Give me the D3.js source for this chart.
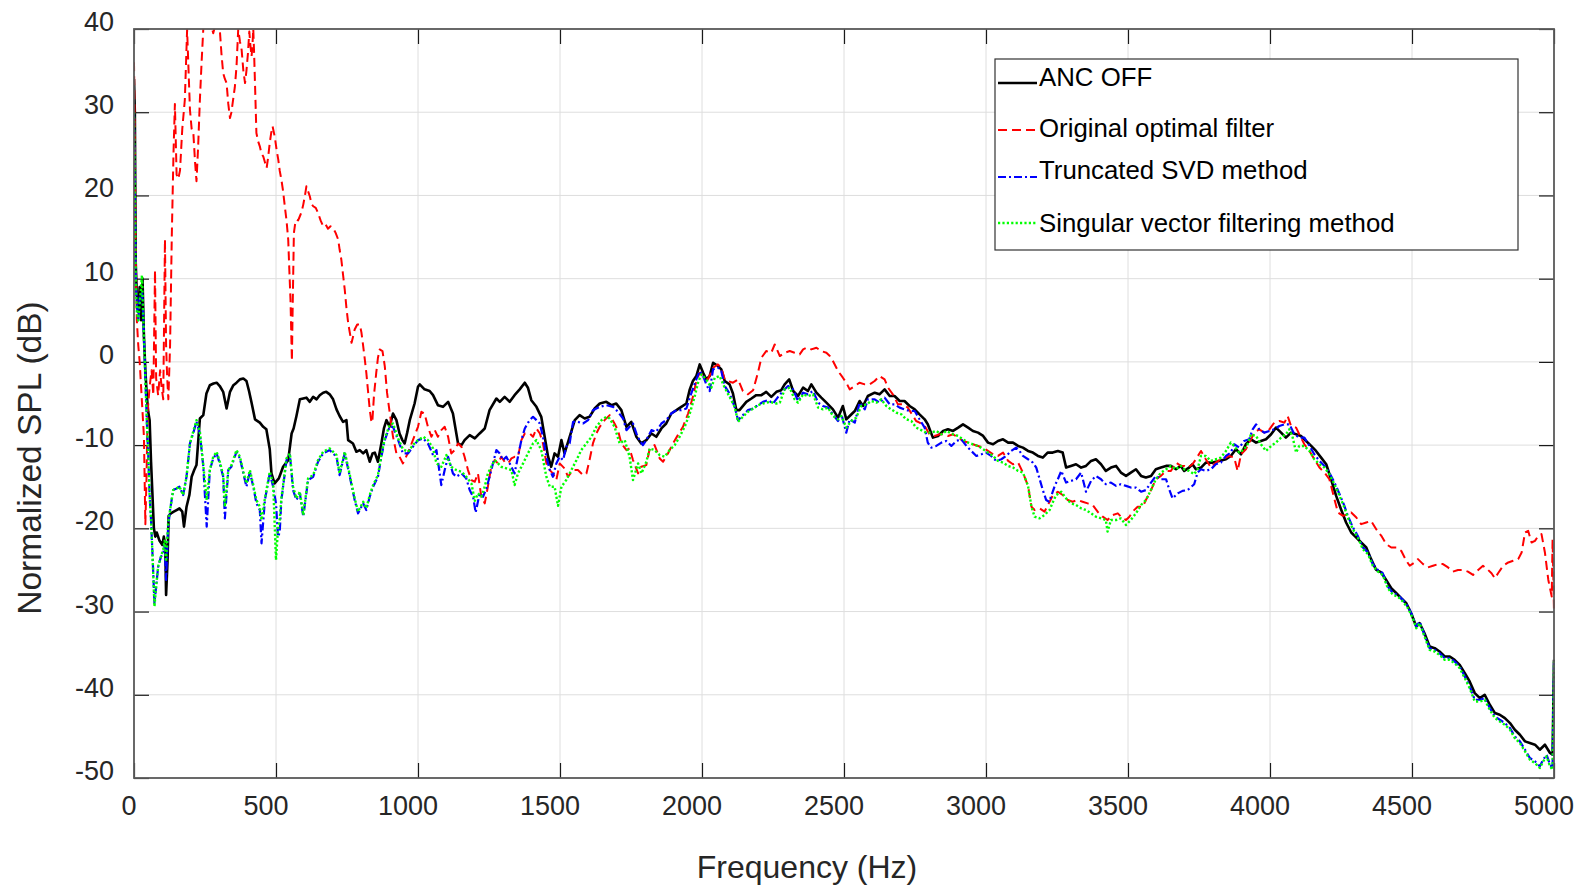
<!DOCTYPE html>
<html>
<head>
<meta charset="utf-8">
<script src="https://cdn.jsdelivr.net/npm/d3@7"></script>
<style>
  body { margin: 0; background: #fff; }
  svg { display: block; font-family: "Liberation Sans", Arial, sans-serif; }
</style>
</head>
<body>
<div id="chart"></div>
<script>
// [frequency (Hz), normalized SPL (dB)]
let ancOff = [[0,34],[3,30],[6,12],[10,8],[15,6],[20,9],[25,5],[30,10],[35,3],[40,-1],[45,-4],[50,-6],[55,-7],[60,-12],[65,-16],[70,-20],[75,-21],[80,-20.5],[90,-21.5],[100,-22],[105,-21],[110,-22],[113,-28],[118,-24],[122,-18.5],[130,-18.2],[140,-18],[150,-17.8],[160,-17.6],[170,-18],[176,-19.8],[185,-17.4],[195,-16],[203,-13.8],[212,-13],[220,-12.4],[232,-6.8],[244,-6.4],[255,-3.8],[267,-2.8],[280,-2.6],[291,-2.5],[302,-2.9],[314,-3.6],[326,-5.6],[338,-3.6],[350,-2.8],[361,-2.5],[373,-2.1],[385,-2.0],[396,-2.3],[405,-3.5],[414,-4.9],[426,-6.9],[443,-7.3],[455,-7.8],[466,-8.1],[478,-10.5],[484,-13.4],[495,-14.6],[510,-14],[525,-12.6],[543,-11.8],[555,-8.6],[562,-8.0],[572,-6.5],[584,-4.5],[596,-4.4],[607,-4.3],[619,-4.8],[631,-4.2],[643,-4.5],[654,-4.0],[666,-3.7],[677,-3.6],[689,-3.9],[701,-4.5],[713,-5.7],[724,-6.5],[736,-7.2],[748,-7.0],[754,-9.4],[771,-9.8],[783,-10.8],[795,-10.6],[807,-11],[818,-10.6],[830,-12],[840,-11],[848,-10.9],[859,-12],[871,-9.8],[880,-8],[889,-7],[900,-7.8],[912,-6.2],[924,-7.0],[935,-8.6],[945,-9.4],[953,-9.8],[962,-8.5],[971,-7],[988,-5],[1000,-3],[1006,-2.7],[1023,-3.3],[1041,-3.5],[1053,-4.0],[1070,-5.2],[1088,-5.4],[1106,-4.8],[1123,-6.2],[1141,-9.8],[1153,-10],[1164,-9.4],[1182,-8.8],[1200,-9.2],[1217,-8.6],[1235,-8],[1252,-5.8],[1276,-4.4],[1288,-4.8],[1305,-4.2],[1323,-4.8],[1340,-4],[1358,-3.3],[1376,-2.5],[1387,-3.1],[1399,-4.6],[1417,-5.4],[1434,-6.6],[1446,-9],[1458,-11.4],[1469,-12.6],[1481,-11],[1493,-11.4],[1505,-9.4],[1516,-11],[1534,-9],[1552,-7],[1569,-6.4],[1587,-6.8],[1604,-6.6],[1622,-5.6],[1640,-5],[1663,-4.8],[1681,-5.2],[1698,-5],[1716,-5.8],[1734,-7.8],[1751,-7.2],[1769,-9],[1786,-9.8],[1804,-9.4],[1822,-8.6],[1839,-9],[1857,-8],[1874,-7.4],[1892,-6.2],[1910,-5.8],[1927,-5.4],[1945,-5],[1957,-3.3],[1968,-2.3],[1980,-1.7],[1992,-0.3],[2004,-1.3],[2015,-2.1],[2027,-1.7],[2039,-0.1],[2056,-0.5],[2068,-0.9],[2080,-2.3],[2097,-2.7],[2109,-3.8],[2121,-5.8],[2132,-5.8],[2156,-4.8],[2174,-4.4],[2191,-4],[2209,-4],[2226,-3.6],[2244,-4.2],[2262,-3.6],[2279,-3.4],[2291,-2.7],[2307,-2.1],[2321,-3.5],[2338,-4.1],[2356,-3.1],[2373,-3.5],[2385,-2.7],[2403,-3.7],[2420,-4.3],[2438,-4.9],[2461,-5.7],[2479,-6.7],[2496,-5.3],[2508,-6.9],[2520,-6.5],[2538,-5.9],[2555,-4.7],[2567,-5.3],[2584,-4.1],[2608,-3.7],[2625,-3.9],[2643,-3.3],[2661,-4.1],[2678,-4.1],[2696,-4.7],[2713,-4.7],[2731,-5.3],[2749,-5.7],[2766,-6.3],[2784,-6.9],[2795,-7.5],[2813,-9.1],[2831,-8.9],[2849,-8.3],[2866,-8.1],[2884,-8.3],[2902,-7.9],[2919,-7.5],[2937,-7.9],[2954,-8.3],[2972,-8.5],[2990,-8.9],[3007,-9.7],[3025,-9.9],[3042,-9.5],[3060,-9.3],[3078,-9.7],[3095,-9.7],[3113,-10.1],[3130,-10.3],[3148,-10.7],[3165,-10.9],[3183,-11.3],[3200,-11.5],[3217,-10.9],[3235,-10.9],[3253,-10.7],[3270,-10.9],[3282,-12.7],[3299,-12.5],[3317,-12.3],[3335,-12.7],[3352,-12.5],[3370,-11.9],[3387,-11.7],[3405,-12.3],[3422,-13.1],[3440,-12.7],[3458,-12.5],[3475,-13.3],[3493,-13.7],[3510,-13.3],[3528,-12.9],[3546,-13.7],[3563,-13.9],[3581,-13.7],[3598,-12.9],[3616,-12.7],[3634,-12.5],[3651,-12.5],[3669,-12.9],[3686,-12.5],[3698,-13.1],[3715,-12.7],[3727,-12.3],[3739,-12.9],[3757,-12.7],[3774,-12.1],[3798,-12.1],[3821,-11.9],[3845,-11.7],[3862,-11.3],[3880,-10.5],[3898,-11.1],[3915,-9.9],[3933,-9.3],[3951,-9.7],[3968,-9.5],[3986,-9.3],[4004,-8.7],[4021,-7.9],[4039,-8.5],[4056,-9.1],[4074,-8.5],[4092,-8.7],[4109,-8.9],[4127,-9.5],[4145,-10.1],[4162,-10.7],[4180,-11.5],[4198,-12.3],[4215,-14.1],[4233,-16.1],[4250,-17.7],[4268,-19.3],[4286,-20.5],[4304,-21.1],[4321,-21.7],[4339,-22.3],[4356,-23.7],[4374,-25],[4392,-25.3],[4409,-26.2],[4427,-27.2],[4445,-27.8],[4462,-28.4],[4480,-29],[4497,-30.2],[4515,-31.8],[4527,-31.4],[4544,-32.6],[4562,-34.2],[4580,-34.4],[4597,-34.8],[4615,-35.4],[4633,-35.4],[4650,-35.8],[4668,-36.4],[4686,-37.4],[4703,-38.4],[4721,-39.8],[4739,-40.4],[4756,-40],[4774,-41.2],[4792,-42.2],[4809,-42.4],[4827,-42.8],[4845,-43.4],[4862,-44.2],[4880,-44.8],[4898,-45.6],[4915,-45.8],[4933,-46],[4950,-46.6],[4968,-46],[4986,-47],[4995,-47.2],[5000,-35.8]];

let originalFilter = [[0,36],[2,30],[5,15],[10,5],[15,2],[20,0],[25,-3],[30,-6],[35,-9],[40,-19.5],[44,-14],[48,-6],[55,-3],[62,-1],[68,-4],[74,11],[78,-2],[85,-4],[92,-1],[97,-3],[103,-4.5],[109,14.7],[113,2],[117,-2],[121,-4.5],[127,2],[133,15],[139,25],[144,31],[150,22.5],[156,22],[162,23],[170,28],[179,31.5],[187,39.9],[197,30.3],[203,28],[209,27.5],[215,24],[220,21.7],[226,26],[232,31.5],[238,36],[244,40],[256,43],[268,41],[279,39.5],[290,41],[302,40],[308,37],[314,34.7],[320,34],[326,33.5],[332,31],[338,29.3],[343,30],[349,31.5],[355,33],[361,35.5],[367,40],[373,38.5],[379,37.5],[385,35],[391,33.5],[396,35],[401,37],[406,39.7],[410,38],[414,36.7],[417,38],[420,40],[423,37],[426,33.5],[431,27.5],[437,26.5],[443,25.9],[449,25],[455,24.7],[461,24],[467,23.3],[472,24.5],[478,26.3],[483,27.5],[488,28.3],[496,27],[502,25.5],[508,24.3],[513,23],[519,21.9],[525,20.5],[531,18.7],[537,17],[543,14.7],[547,11],[551,7.5],[554,3],[556,0.1],[558,5],[563,15.5],[567,16.5],[572,17.1],[578,17],[584,17.5],[590,18],[596,18.9],[602,20],[607,21.1],[613,20.5],[619,19.9],[625,19],[631,18.7],[640,18.5],[648,17.9],[657,17],[666,16.3],[675,16.5],[683,16],[692,16.3],[701,16.1],[710,15.5],[719,14.7],[724,13.5],[730,12.3],[736,10.5],[742,8.7],[748,6.5],[754,4.7],[760,3.5],[766,2.3],[771,3],[777,3.9],[786,4.5],[795,4.5],[801,3.5],[807,1.9],[812,0.5],[818,-1.3],[824,-3.5],[830,-5.7],[835,-7],[839,-7.3],[845,-4],[853,-1.3],[859,0.5],[865,1.5],[875,1.3],[883,-0.5],[891,-3.7],[900,-6],[912,-9],[924,-11],[935,-11.4],[947,-12.2],[965,-10.9],[982,-9.4],[1000,-7.8],[1012,-6],[1023,-6.2],[1035,-7.8],[1047,-9],[1059,-8.2],[1070,-9],[1082,-8.2],[1094,-7.8],[1106,-9],[1117,-11],[1129,-10.6],[1141,-9.8],[1153,-10.2],[1164,-11.4],[1176,-13],[1188,-14.2],[1200,-14.4],[1211,-13.4],[1223,-16.2],[1235,-17],[1246,-15],[1258,-12.6],[1270,-11.8],[1282,-12.2],[1293,-11.4],[1305,-12],[1317,-12.2],[1329,-11.6],[1340,-11.4],[1352,-11.4],[1364,-9.4],[1376,-8.6],[1393,-8.6],[1405,-9],[1417,-8],[1429,-8.6],[1440,-9.8],[1452,-12.2],[1464,-13],[1475,-13.4],[1487,-14.2],[1499,-12.2],[1516,-12.8],[1528,-13.8],[1546,-13],[1563,-13],[1581,-13.6],[1593,-13.4],[1604,-11.8],[1616,-9.8],[1628,-8.6],[1640,-7.8],[1657,-7],[1675,-6.4],[1692,-7.4],[1704,-8.2],[1716,-9.8],[1734,-10.6],[1745,-10.4],[1757,-11.8],[1775,-13.4],[1786,-12.6],[1804,-12.4],[1816,-10.4],[1833,-10],[1851,-11.6],[1863,-12],[1880,-11],[1898,-9.8],[1915,-8.8],[1933,-7.8],[1951,-6.2],[1968,-4.2],[1980,-2.3],[1992,-1.3],[2004,-1.7],[2021,-2.1],[2039,-0.7],[2056,-0.3],[2068,-0.7],[2080,-2.1],[2091,-2.3],[2109,-2.5],[2127,-2.1],[2144,-3.5],[2162,-3.9],[2180,-3.4],[2197,-1.3],[2209,0.5],[2226,1.3],[2244,1.1],[2256,2.1],[2274,0.7],[2291,1.1],[2309,1.3],[2326,1.1],[2344,0.9],[2356,1.5],[2368,1.7],[2385,1.5],[2403,1.7],[2420,1.3],[2438,1.1],[2450,0.7],[2461,0.1],[2479,-1.1],[2496,-1.9],[2508,-2.5],[2520,-3.3],[2538,-2.9],[2555,-2.5],[2573,-2.7],[2590,-2.7],[2608,-2.3],[2625,-1.7],[2643,-2.1],[2655,-3.1],[2672,-3.9],[2690,-5.1],[2708,-5.1],[2725,-5.5],[2743,-6.5],[2754,-7.1],[2766,-7.3],[2784,-7.7],[2801,-8.7],[2819,-8.9],[2837,-8.7],[2849,-8.7],[2866,-8.9],[2884,-8.7],[2902,-9.1],[2919,-9.5],[2937,-9.7],[2954,-9.9],[2972,-10.1],[2990,-10.3],[3007,-10.7],[3025,-11.1],[3042,-11.3],[3060,-10.9],[3078,-11.9],[3095,-12.3],[3113,-12.1],[3130,-13.3],[3148,-14.9],[3160,-17.4],[3171,-17.8],[3189,-17.6],[3206,-18],[3224,-16.8],[3236,-16],[3253,-15.6],[3270,-16],[3288,-16.6],[3305,-16.8],[3323,-16.6],[3340,-16.8],[3358,-17],[3376,-17.2],[3393,-18],[3411,-18.6],[3428,-19],[3446,-18.4],[3464,-18.2],[3481,-18.8],[3493,-19],[3505,-18.6],[3516,-18],[3534,-17.4],[3552,-17.4],[3563,-16.6],[3581,-15.4],[3598,-14.1],[3616,-13.7],[3634,-13.1],[3651,-13.1],[3669,-12.1],[3686,-12.5],[3698,-12.5],[3710,-12.7],[3727,-12.3],[3739,-11.7],[3757,-10.7],[3774,-11.7],[3792,-12.7],[3809,-12.1],[3827,-11.7],[3845,-11.5],[3856,-11.3],[3874,-11.5],[3886,-13.1],[3898,-11.1],[3915,-10.5],[3933,-9.3],[3945,-8.5],[3962,-8.1],[3980,-8.5],[3998,-8.1],[4015,-7.3],[4033,-7.1],[4051,-7.3],[4062,-6.5],[4074,-7.7],[4092,-7.9],[4103,-8.7],[4121,-9.9],[4139,-10.7],[4156,-11.7],[4174,-12.7],[4192,-13.3],[4209,-14.1],[4227,-16.5],[4239,-18.1],[4257,-18.5],[4274,-18.3],[4286,-18.1],[4304,-18.7],[4321,-19.5],[4339,-19.3],[4356,-19.1],[4374,-20.1],[4392,-20.9],[4409,-21.9],[4427,-22.3],[4445,-22.3],[4462,-22.7],[4480,-23.9],[4492,-24.5],[4509,-24.1],[4521,-23.7],[4539,-24.3],[4556,-24.7],[4574,-24.5],[4592,-24.3],[4609,-24.3],[4627,-24.7],[4644,-25.2],[4662,-25],[4680,-25],[4697,-25.2],[4715,-25.6],[4733,-25],[4750,-24.5],[4768,-25],[4780,-25.4],[4792,-26],[4803,-25.4],[4821,-24.5],[4839,-24.1],[4856,-23.9],[4874,-23.7],[4886,-22.9],[4898,-20.5],[4909,-20.3],[4921,-21.7],[4933,-21.5],[4945,-20.9],[4956,-20.7],[4968,-22.9],[4980,-26.2],[4992,-28.2],[4995,-21.3],[5000,-30]];

let truncatedSvd = [[0,30],[3,20],[6,10],[10,7],[15,5],[20,8],[25,8],[28,8.5],[32,6],[36,2],[40,-2],[45,-7],[50,-11],[55,-16],[60,-19],[65,-23],[72,-29],[78,-27],[85,-24.6],[95,-23.4],[103,-23],[108,-22],[113,-26.2],[120,-20],[127,-17.8],[138,-15.4],[150,-15.2],[160,-15],[173,-16],[185,-13.8],[197,-9.8],[210,-8.4],[220,-7.2],[232,-8.6],[244,-12.6],[256,-19.8],[267,-13],[279,-11.6],[291,-11],[302,-12.2],[314,-13.8],[320,-18.8],[332,-13],[343,-12.6],[361,-10.8],[373,-11.6],[385,-13.4],[396,-15],[408,-13.2],[420,-15],[431,-17],[443,-17.8],[449,-21.8],[461,-16.6],[478,-13.4],[490,-15],[500,-17],[507,-21],[513,-20.5],[519,-16.6],[537,-11.8],[549,-11.2],[560,-15.4],[572,-16.6],[584,-15.8],[596,-18.6],[613,-14.2],[631,-13.8],[648,-12],[666,-11],[689,-10.6],[713,-11.4],[724,-13.6],[742,-11],[760,-13.8],[777,-16.6],[789,-18.2],[807,-17],[818,-17.8],[830,-16.2],[842,-15],[859,-13.8],[871,-11.4],[883,-9.4],[900,-7.8],[912,-7.8],[930,-9.4],[947,-11],[965,-11],[982,-10.2],[1000,-9.4],[1018,-9.2],[1035,-9.8],[1053,-11.2],[1065,-10.6],[1082,-14.8],[1094,-13],[1106,-11.4],[1123,-13.4],[1135,-13.8],[1153,-13.4],[1170,-14],[1182,-15.4],[1194,-16.2],[1203,-18.1],[1217,-15.8],[1229,-16.2],[1241,-15.2],[1252,-13.8],[1264,-12.2],[1276,-10.6],[1288,-11],[1299,-11.8],[1311,-11.4],[1323,-12.2],[1340,-13.4],[1352,-11.4],[1364,-9.4],[1376,-8],[1393,-7],[1405,-6.6],[1417,-7],[1429,-7.4],[1440,-9],[1452,-11.4],[1464,-13],[1475,-13.8],[1487,-12.2],[1499,-11.4],[1511,-11.8],[1522,-10.2],[1534,-9.8],[1546,-7.2],[1563,-7.2],[1581,-7.4],[1599,-7],[1616,-5.8],[1640,-5.4],[1663,-5.2],[1687,-5.4],[1704,-6],[1722,-6.8],[1734,-8.2],[1745,-7.8],[1757,-7.4],[1769,-8.6],[1780,-9.4],[1792,-10],[1804,-9.4],[1822,-8.2],[1839,-8.4],[1857,-7.4],[1874,-7],[1892,-6.2],[1910,-5.8],[1927,-5.8],[1945,-5.6],[1962,-3.8],[1980,-2.1],[1992,-1.1],[2004,-1.7],[2015,-2.7],[2027,-3.5],[2039,-0.9],[2056,-0.7],[2068,-1.1],[2080,-2.9],[2097,-3.8],[2115,-5.4],[2127,-7],[2144,-6.4],[2162,-5.8],[2180,-5.6],[2197,-5.2],[2215,-4.8],[2233,-4.6],[2250,-5],[2268,-4.2],[2285,-3.5],[2303,-2.9],[2321,-3.3],[2338,-4.7],[2356,-3.7],[2373,-3.9],[2391,-3.5],[2409,-4.9],[2426,-5.3],[2444,-5.5],[2461,-6.3],[2479,-7.1],[2491,-6.3],[2508,-8.5],[2520,-6.9],[2538,-7.3],[2555,-4.9],[2573,-5.7],[2584,-4.5],[2608,-4.5],[2625,-4.9],[2643,-4.3],[2661,-5.1],[2678,-5.1],[2696,-5.5],[2713,-5.7],[2731,-5.9],[2749,-5.9],[2766,-6.9],[2784,-7.9],[2795,-9.7],[2807,-10.3],[2825,-10.1],[2843,-9.7],[2860,-9.5],[2878,-10.1],[2896,-9.5],[2913,-9.3],[2931,-10.1],[2948,-10.7],[2966,-11.3],[2984,-11.1],[3000,-10.9],[3018,-11.3],[3036,-11.9],[3054,-11.7],[3071,-11.3],[3089,-10.7],[3106,-10.3],[3118,-10.7],[3130,-11.3],[3148,-11.7],[3165,-12.1],[3177,-12.7],[3189,-14.1],[3200,-15.4],[3212,-16.6],[3222,-16.8],[3230,-16.1],[3242,-14.9],[3253,-14.1],[3265,-13.1],[3282,-14.5],[3299,-14.3],[3317,-14.1],[3335,-13.3],[3352,-15.6],[3370,-14.3],[3387,-13.7],[3405,-14.1],[3422,-14.7],[3440,-14.5],[3458,-14.9],[3475,-14.7],[3493,-14.9],[3510,-15.1],[3528,-15.1],[3546,-15.6],[3563,-15.4],[3581,-14.5],[3598,-13.7],[3616,-14.1],[3634,-14.1],[3645,-15.3],[3657,-16.4],[3675,-15.8],[3692,-15.5],[3710,-15.4],[3733,-14.7],[3745,-13.3],[3757,-12.9],[3774,-13.1],[3792,-12.9],[3809,-12.3],[3827,-12.1],[3845,-11.3],[3862,-10.9],[3874,-9.9],[3892,-10.3],[3909,-9.5],[3927,-9.3],[3939,-8.1],[3951,-7.5],[3962,-8.1],[3980,-8.5],[3998,-8.3],[4015,-8.1],[4033,-7.7],[4051,-7.5],[4068,-7.5],[4086,-8.7],[4103,-9.1],[4121,-9.1],[4139,-10.1],[4156,-11.1],[4174,-11.9],[4192,-12.5],[4209,-13.3],[4227,-14.5],[4245,-15.9],[4262,-17.3],[4274,-18.5],[4292,-19.9],[4309,-20.9],[4327,-22.3],[4345,-22.9],[4362,-24.3],[4380,-25],[4397,-25.4],[4415,-27],[4433,-27.8],[4450,-28],[4468,-28.6],[4486,-29.4],[4503,-30.6],[4515,-31.8],[4527,-31.2],[4544,-32.8],[4562,-34.4],[4580,-34.6],[4597,-35],[4615,-35.6],[4633,-35.6],[4650,-36],[4668,-36.6],[4686,-37.8],[4703,-39],[4721,-40.6],[4739,-40.6],[4756,-40.4],[4774,-41.6],[4792,-42.6],[4809,-43],[4827,-43.4],[4845,-44],[4862,-45],[4880,-45.6],[4898,-46.6],[4915,-47.6],[4933,-48],[4950,-48.6],[4962,-47.8],[4974,-47.2],[4986,-48.4],[4995,-48.8],[5000,-36]];

let singularVector = [[0,30],[3,20],[6,10],[10,6],[15,5],[20,7],[25,9],[28,10.4],[32,6],[36,2],[40,-2],[45,-7],[50,-11],[55,-16],[60,-19],[65,-23],[72,-29.4],[78,-27],[85,-24.6],[95,-23.4],[103,-22.5],[108,-21.5],[113,-24],[120,-19.5],[127,-17.8],[138,-15.4],[150,-15.2],[160,-15],[173,-16],[185,-13.8],[197,-9.8],[210,-8.2],[220,-7],[232,-8.4],[244,-12.4],[256,-16.6],[267,-13],[279,-11.4],[291,-10.8],[302,-12],[314,-13.6],[320,-17.4],[332,-13],[343,-12.4],[361,-10.6],[373,-11.4],[385,-13.2],[396,-14.6],[408,-13],[420,-14.8],[431,-16.6],[443,-17.4],[449,-19],[461,-16.4],[478,-13.2],[490,-14.6],[500,-23.8],[507,-20],[513,-19],[519,-16.4],[537,-11.6],[549,-11],[560,-15],[572,-16.4],[584,-15.6],[596,-18.4],[613,-14],[631,-13.6],[648,-11.8],[666,-10.8],[689,-10.4],[713,-11.2],[724,-13.4],[742,-10.8],[760,-13.6],[777,-16.4],[789,-18],[807,-16.8],[818,-17.6],[830,-16],[842,-14.8],[859,-13.6],[871,-11.2],[883,-9.2],[900,-7.6],[912,-7.4],[930,-9.2],[947,-10.5],[965,-10.8],[982,-10],[1000,-9.4],[1018,-9],[1035,-9.4],[1053,-10.4],[1065,-12.2],[1082,-12.6],[1100,-11.2],[1117,-12.6],[1135,-13],[1153,-13.2],[1170,-13.8],[1188,-14.6],[1200,-16.7],[1211,-15.8],[1223,-16.2],[1235,-15],[1246,-13.4],[1258,-12.6],[1270,-11.8],[1282,-12.2],[1293,-12.6],[1311,-12.8],[1329,-13],[1340,-14.8],[1352,-13.4],[1370,-12.2],[1387,-11],[1405,-9.8],[1417,-9.4],[1434,-10.6],[1452,-13.8],[1464,-15],[1481,-15],[1493,-17.3],[1505,-15],[1522,-14.2],[1540,-13],[1558,-11.8],[1575,-10.6],[1593,-9.8],[1611,-9],[1628,-7.8],[1646,-7],[1663,-6.6],[1675,-6.8],[1692,-7.8],[1710,-9.8],[1728,-9.4],[1745,-11.4],[1757,-14.2],[1775,-12.2],[1787,-13.4],[1804,-12],[1816,-10.4],[1833,-10.6],[1851,-11.2],[1868,-11.4],[1886,-10.6],[1904,-10],[1921,-9],[1939,-7.8],[1957,-6.2],[1974,-4.2],[1986,-2.5],[1998,-1.5],[2015,-2.1],[2033,-3.1],[2045,-1.9],[2062,-1.7],[2080,-3.1],[2097,-4.2],[2115,-5.4],[2127,-7.2],[2144,-6.6],[2162,-6],[2180,-5.6],[2197,-5.2],[2215,-5],[2238,-4.8],[2262,-5],[2274,-4.9],[2291,-3.3],[2309,-3.1],[2326,-4.5],[2338,-4.9],[2356,-3.9],[2373,-4.1],[2391,-3.9],[2409,-5.5],[2426,-5.7],[2444,-5.5],[2461,-6.5],[2479,-6.9],[2491,-6.5],[2508,-7.9],[2526,-7.1],[2543,-6.7],[2561,-5.3],[2579,-5.1],[2596,-4.7],[2614,-4.9],[2631,-4.5],[2649,-5.3],[2666,-5.7],[2684,-6.1],[2702,-6.3],[2719,-6.9],[2737,-7.1],[2754,-7.9],[2766,-8.1],[2790,-8.5],[2807,-8.5],[2825,-8.3],[2843,-8.7],[2860,-8.3],[2884,-8.7],[2902,-8.9],[2919,-9.3],[2937,-9.7],[2954,-9.9],[2972,-10.1],[2990,-10.5],[3007,-10.9],[3025,-11.3],[3042,-11.9],[3060,-12.1],[3078,-12.5],[3095,-12.7],[3113,-13.1],[3130,-13.3],[3148,-14.9],[3160,-17.4],[3171,-18.6],[3189,-18.8],[3206,-18.4],[3224,-17.8],[3236,-16.8],[3247,-16],[3265,-15.6],[3282,-16.4],[3299,-17],[3317,-17.2],[3335,-17.6],[3352,-17.8],[3370,-18.2],[3387,-18.6],[3405,-18.8],[3422,-19],[3428,-20.4],[3440,-19],[3458,-19],[3475,-18.8],[3493,-19.6],[3510,-19],[3528,-18.2],[3546,-17.2],[3563,-16.6],[3581,-15.4],[3598,-14.1],[3616,-13.3],[3634,-12.9],[3651,-12.5],[3669,-12.9],[3686,-12.5],[3698,-12.9],[3715,-13.1],[3733,-13.5],[3745,-12.9],[3757,-11.3],[3774,-11.3],[3792,-11.9],[3809,-11.7],[3827,-11.5],[3845,-10.7],[3862,-9.7],[3874,-10.1],[3892,-10.9],[3909,-10.5],[3921,-9.9],[3933,-8.7],[3951,-8.9],[3968,-9.9],[3986,-10.7],[4004,-10.1],[4021,-9.7],[4039,-9.1],[4056,-8.7],[4068,-8.1],[4080,-9.1],[4092,-10.9],[4103,-10.1],[4121,-10.1],[4139,-10.7],[4156,-11.7],[4174,-12.3],[4192,-12.7],[4209,-13.5],[4227,-14.7],[4245,-16.1],[4262,-17.5],[4274,-18.7],[4292,-20.1],[4309,-21.1],[4327,-22.5],[4345,-23.1],[4362,-24.5],[4380,-25.2],[4397,-25.6],[4415,-27.2],[4433,-28],[4450,-28.2],[4468,-28.8],[4486,-29.6],[4503,-30.8],[4515,-32],[4527,-31.4],[4544,-33],[4562,-34.6],[4580,-34.8],[4597,-35.2],[4615,-35.8],[4633,-35.8],[4650,-36.2],[4668,-36.8],[4686,-38],[4703,-39.2],[4721,-40.8],[4739,-40.8],[4756,-40.6],[4774,-41.8],[4792,-42.8],[4809,-43.2],[4827,-43.6],[4845,-44.2],[4862,-45.2],[4880,-45.8],[4898,-46.8],[4915,-47.8],[4933,-48.2],[4950,-48.8],[4962,-48],[4974,-47.4],[4986,-48.6],[4995,-49],[5000,-36]];

let xTicks = [0, 500, 1000, 1500, 2000, 2500, 3000, 3500, 4000, 4500, 5000];
let yTicks = [-50, -40, -30, -20, -10, 0, 10, 20, 30, 40];
let legendNames = ["ANC OFF", "Original optimal filter", "Truncated SVD method", "Singular vector filtering method"];

let width = 1580;
let height = 887;
let plotLeft = 134;
let plotRight = 1554;
let plotTop = 29;
let plotBottom = 778;
let tickLen = 15;

let svg = d3
  .select("#chart")
  .append("svg")
  .attr("width", width)
  .attr("height", height);

let xScale = d3.scaleLinear().domain([0, 5000]).range([plotLeft, plotRight]);
let yScale = d3.scaleLinear().domain([-50, 40]).range([plotBottom, plotTop]);

// grid
let grid = svg.append("g").attr("class", "grid");
grid.selectAll("line.gx")
  .data(xTicks)
  .enter()
  .append("line")
  .attr("x1", d => xScale(d)).attr("x2", d => xScale(d))
  .attr("y1", plotTop).attr("y2", plotBottom)
  .attr("stroke", "#dedede").attr("stroke-width", 1);
grid.selectAll("line.gy")
  .data(yTicks)
  .enter()
  .append("line")
  .attr("x1", plotLeft).attr("x2", plotRight)
  .attr("y1", d => yScale(d)).attr("y2", d => yScale(d))
  .attr("stroke", "#dedede").attr("stroke-width", 1);

// inward ticks on all four sides
function tickAxis(axis, tx, ty) {
  let g = svg.append("g")
    .attr("transform", "translate(" + tx + "," + ty + ")")
    .call(axis.tickSizeInner(-tickLen).tickSizeOuter(0).tickFormat(""));
  g.select(".domain").remove();
  g.selectAll(".tick line").attr("stroke", "#1a1a1a").attr("stroke-width", 1.2);
  return g;
}
tickAxis(d3.axisBottom(xScale).tickValues(xTicks), 0, plotBottom);
tickAxis(d3.axisTop(xScale).tickValues(xTicks), 0, plotTop);
tickAxis(d3.axisLeft(yScale).tickValues(yTicks), plotLeft, 0);
tickAxis(d3.axisRight(yScale).tickValues(yTicks), plotRight, 0);

// series
let series = [
  { data: ancOff, color: "#000000", width: 2.6, dash: null },
  { data: originalFilter, color: "#ff0000", width: 2, dash: "9,5" },
  { data: truncatedSvd, color: "#0000ff", width: 2.2, dash: "8,3,2,3" },
  { data: singularVector, color: "#00ff00", width: 2.4, dash: "2.2,2.2" }
];

svg.append("clipPath").attr("id", "plotClip")
  .append("rect")
  .attr("x", plotLeft).attr("y", plotTop)
  .attr("width", plotRight - plotLeft + 1).attr("height", plotBottom - plotTop);

let line = d3.line()
  .x(d => xScale(d[0]))
  .y(d => yScale(d[1]));

let lines = svg.append("g").attr("clip-path", "url(#plotClip)");
series.forEach(function(s) {
  lines.append("path")
    .datum(s.data)
    .attr("d", line)
    .attr("fill", "none")
    .attr("stroke", s.color)
    .attr("stroke-width", s.width)
    .attr("stroke-linejoin", "round")
    .attr("stroke-dasharray", s.dash);
});

// axes box
svg.append("rect")
  .attr("x", plotLeft).attr("y", plotTop)
  .attr("width", plotRight - plotLeft).attr("height", plotBottom - plotTop)
  .attr("fill", "none")
  .attr("stroke", "#5a5a5a")
  .attr("stroke-width", 1.8);

// tick labels
svg.append("g").selectAll("text")
  .data(xTicks)
  .enter()
  .append("text")
  .attr("x", d => xScale(d) - (d === 0 ? 5 : 10))
  .attr("y", 815)
  .attr("text-anchor", "middle")
  .attr("font-size", 27)
  .attr("fill", "#262626")
  .text(d => d);

svg.append("g").selectAll("text")
  .data(yTicks)
  .enter()
  .append("text")
  .attr("x", 114)
  .attr("y", d => yScale(d) + 2)
  .attr("text-anchor", "end")
  .attr("font-size", 27)
  .attr("fill", "#262626")
  .text(d => d);

// axis labels
svg.append("text")
  .attr("x", 807)
  .attr("y", 878)
  .attr("text-anchor", "middle")
  .attr("font-size", 32)
  .attr("fill", "#262626")
  .text("Frequency (Hz)");

svg.append("text")
  .attr("transform", "translate(41,458)rotate(-90)")
  .attr("text-anchor", "middle")
  .attr("font-size", 33.5)
  .attr("fill", "#262626")
  .text("Normalized SPL (dB)");

// legend
let legend = svg.append("g").attr("class", "legend");
legend.append("rect")
  .attr("x", 995).attr("y", 59)
  .attr("width", 523).attr("height", 191)
  .attr("fill", "#fff")
  .attr("stroke", "#333")
  .attr("stroke-width", 1.2);

let legendLineY = [83, 130, 177, 223];
let legendTextY = [86, 137, 179, 232];

legendNames.forEach(function(name, i) {
  let s = series[i];
  legend.append("line")
    .attr("x1", 998).attr("x2", 1037)
    .attr("y1", legendLineY[i]).attr("y2", legendLineY[i])
    .attr("stroke", s.color)
    .attr("stroke-width", s.width)
    .attr("stroke-dasharray", s.dash);
  legend.append("text")
    .attr("x", 1039)
    .attr("y", legendTextY[i])
    .attr("font-size", 25.8)
    .attr("fill", "#000")
    .text(name);
});
</script>
</body>
</html>
